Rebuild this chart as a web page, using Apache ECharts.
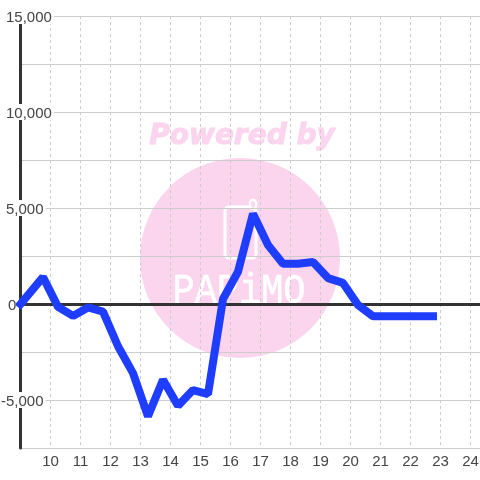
<!DOCTYPE html>
<html>
<head>
<meta charset="utf-8">
<style>html,body{margin:0;padding:0;background:#fff}#c{width:480px;height:480px}</style>
<script src="https://cdn.jsdelivr.net/npm/echarts@6/dist/echarts.min.js"></script>
</head>
<body>
<div id="c"></div>
<script>
const hours = [9,9.75,10.25,10.75,11.25,11.75,12.25,12.75,13.25,13.75,14.25,14.75,15.25,15.75,16.25,16.75,17.25,17.75,18.25,18.75,19.25,19.75,20.25,20.75,21.25,21.75,22.25,22.75];
const values = [0,1400,-150,-620,-180,-400,-2200,-3600,-5850,-3950,-5300,-4480,-4690,260,1680,4700,3070,2100,2100,2190,1350,1100,-50,-640,-640,-640,-640,-640];
const labelledTicks = [15000,10000,5000,0,-5000];

const chart = echarts.init(document.getElementById('c'), null, {renderer:'canvas'});
const fontFamily = '"Liberation Sans", Arial, sans-serif';
const tokenStyle = {fontSize:15, fontFamily, color:'#444', backgroundColor:'#fff', lineHeight:13, height:13, padding:[3,2,0,0]};
chart.setOption({
  animation:false,
  backgroundColor:'#fff',
  grid:{left:20.5,right:0,top:16,bottom:32,containLabel:false,outerBoundsMode:'none'},
  graphic:{elements:[
    {type:'circle',z:-1,silent:true,shape:{cx:240,cy:258,r:100},style:{fill:'#fbd5ee'}},
    {type:'text',z:-1,silent:true,x:242,y:136.5,style:{text:'Powered by',font:'italic bold 28px "DejaVu Sans"',fill:'#fbd5ee',stroke:'#fbd5ee',lineWidth:1,align:'center',verticalAlign:'middle'}},
    {type:'rect',z:-1,silent:true,shape:{x:225,y:207,width:31,height:51,r:4},style:{fill:'none',stroke:'#fff',lineWidth:3}},
    {type:'rect',z:-1,silent:true,shape:{x:250,y:200,width:6,height:9,r:3},style:{fill:'#fbd5ee',stroke:'#fff',lineWidth:2.5}},
    {type:'text',z:-1,silent:true,x:239,y:292,scaleX:0.88,style:{text:'PAPiMO',font:'42px "Liberation Mono"',fill:'#fff',stroke:'#fff',lineWidth:0.6,align:'center',verticalAlign:'middle'}}
  ]},
  xAxis:[
    {type:'value',min:9,max:24.3167,interval:1,position:'bottom',z:0,
     axisLine:{onZero:false,lineStyle:{color:'#ccc',width:1}},axisTick:{show:false},
     axisLabel:{showMinLabel:false,showMaxLabel:false,fontSize:15,fontFamily,color:'#444',margin:6},
     splitLine:{show:true,lineStyle:{color:'#ccc',type:[3,3],width:1}}},
    {type:'value',min:9,max:24.3167,interval:1,position:'top',z:2,
     axisLine:{show:true,onZero:true,lineStyle:{color:'#333',width:3}},axisTick:{show:false},
     axisLabel:{show:false},splitLine:{show:false}}
  ],
  yAxis:{type:'value',min:-7500,max:15000,interval:2500,z:1,
    axisLine:{show:true,onZero:false,lineStyle:{color:'#333',width:3}},axisTick:{show:false},
    splitLine:{show:true,lineStyle:{color:'#ccc',width:1}},
    axisLabel:{align:'left',margin:19.5,showMinLabel:false,
      formatter:function(v){
        if(!labelledTicks.includes(v)) return '';
        const s = v.toLocaleString('en-US');
        const pad = v<0 ? 'n' : (v===0 ? 'z' : 'p');
        return '{'+pad+'|}{a|'+s+'}';
      },
      rich:{a:tokenStyle,n:{width:0,height:13},p:{width:5,height:13},z:{width:7,height:13}}
    }
  },
  series:[{type:'line',xAxisIndex:0,z:3,data:hours.map((h,i)=>[h,values[i]]),showSymbol:false,symbol:'none',clip:false,
    lineStyle:{color:'#1f3dff',width:8,cap:'square',join:'bevel'}}]
});
</script>
</body>
</html>
